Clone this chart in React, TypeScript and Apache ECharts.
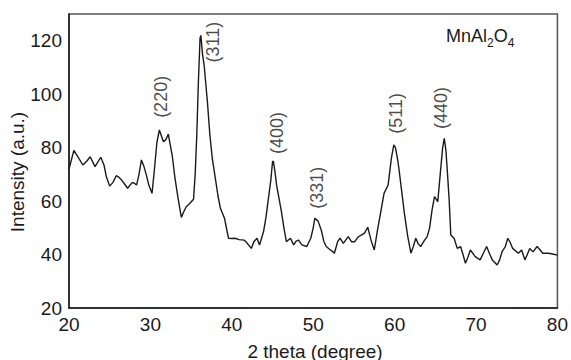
import React, { useEffect, useRef } from "react";
import * as echarts from "echarts";

const twoTheta: number[] = [
  20.0, 20.6, 21.0, 21.7, 22.2, 22.6, 23.2, 23.9, 24.3, 24.6, 25.0, 25.4, 25.8, 26.1, 26.4, 26.8,
  27.2, 27.5, 27.8, 28.1, 28.3, 28.6, 28.9, 29.2, 29.5, 29.8, 30.2, 30.5, 30.8, 31.1, 31.4, 31.6,
  31.9, 32.2, 32.5, 32.7, 33.0, 33.4, 33.8, 34.1, 34.4, 34.8, 35.3, 35.5, 35.7, 35.9, 36.1, 36.2,
  36.4, 36.6, 37.0, 37.3, 37.6, 38.0, 38.3, 38.6, 39.1, 39.4, 39.6, 40.0, 40.4, 40.9, 41.5, 41.9,
  42.4, 42.7, 43.1, 43.4, 43.9, 44.2, 44.5, 44.8, 45.0, 45.1, 45.3, 45.5, 45.8, 46.1, 46.4, 46.7,
  47.2, 47.6, 47.9, 48.2, 48.6, 49.2, 49.7, 50.0, 50.2, 50.6, 51.0, 51.3, 51.6, 52.0, 52.4, 52.6,
  53.0, 53.3, 53.7, 54.3, 54.7, 55.1, 55.5, 55.9, 56.3, 56.7, 57.1, 57.5, 57.9, 58.3, 58.7, 59.2,
  59.6, 59.9, 60.1, 60.4, 60.6, 61.2, 61.6, 62.0, 62.3, 62.6, 62.9, 63.2, 63.6, 64.0, 64.3, 64.6,
  64.9, 65.3, 65.6, 65.9, 66.1, 66.3, 66.5, 66.7, 66.9, 67.3, 67.7, 68.1, 68.4, 68.7, 69.0, 69.3,
  69.6, 69.9, 70.5, 70.9, 71.3, 71.7, 72.0, 72.6, 72.9, 73.2, 73.6, 73.9, 74.2, 74.5, 75.2, 75.6,
  76.0, 76.3, 76.6, 77.0, 77.5, 77.8, 78.2, 78.9, 79.4, 80.0,
];

const intensity: number[] = [
  72, 79, 77, 73.5, 75, 76.6, 72.9, 76.4, 73.5, 69, 65.6, 67, 69.5, 69, 68.1, 66.5,
  64.8, 66, 67, 66.5, 66, 70, 75.4, 73, 69.8, 66, 62.9, 72, 82, 86.6, 84, 82.2,
  83, 85.1, 80, 76.6, 69, 61, 53.9, 56, 57.9, 59, 60.7, 70, 85, 105, 121, 122,
  115, 110.9, 97.2, 85, 76, 68, 62, 57.3, 53.6, 49, 46.1, 46, 46.1, 45.6, 45.4, 44.2,
  42.3, 44.8, 46.1, 43.6, 48.6, 54, 61, 68, 74.7, 75, 71, 66, 61, 56, 50, 44.8,
  46.1, 43.6, 45, 45.4, 43.6, 43, 46.1, 50, 53.6, 52.5, 49, 45, 43, 42, 41.1, 40.5,
  44.8, 46.1, 44.2, 46.7, 44.8, 44.8, 46.5, 47.3, 48, 50.2, 45.4, 41.7, 49.2, 56, 62.9, 66,
  76, 81, 80, 75, 70.4, 55.4, 47, 40.5, 43, 46.1, 44, 43, 45, 46.7, 50, 56.7,
  61.7, 59.8, 70, 80, 83.5, 79, 70, 60.4, 47.3, 46.1, 42.3, 43, 40, 36.7, 39, 41.7,
  40.5, 39.2, 38, 40.5, 43, 40, 38, 36.1, 38, 41.1, 43, 46.1, 44.5, 42.3, 40.5, 41.7,
  38, 40, 42.3, 41, 43, 42, 40.5, 40.5, 40.2, 39.8,
];

const peakLabels: string[] = ["(220)", "(311)", "(400)", "(331)", "(511)", "(440)"];
const peakLabelX: number[] = [31.3, 37.7, 45.6, 50.5, 60.2, 65.7];
const peakLabelY: number[] = [99, 119.5, 85.5, 65, 92.8, 94.8];

const xTicks = { min: 20, max: 80, interval: 10 };
const yTicks = { min: 20, max: 130, interval: 20 };

const FONT = "'Liberation Sans', Arial, Helvetica, sans-serif";
const INK = "#1a1a1a";

export default function App() {
  const ref = useRef<HTMLDivElement>(null);

  useEffect(() => {
    if (!ref.current) return;
    const chart = echarts.init(ref.current, undefined, { renderer: "svg" });

    const lineData = twoTheta.map((x, i) => [x, intensity[i]]);
    const labelData = peakLabels.map((t, i) => ({ value: [peakLabelX[i], peakLabelY[i]], name: t }));

    chart.setOption({
      animation: false,
      backgroundColor: "#ffffff",
      grid: {
        left: 69,
        right: 10,
        top: 14,
        bottom: 52,
        show: true,
        borderColor: "#555",
        borderWidth: 1.5,
        backgroundColor: "transparent",
      },
      xAxis: {
        type: "value",
        min: xTicks.min,
        max: xTicks.max,
        interval: xTicks.interval,
        axisLine: { show: true, lineStyle: { color: INK, width: 1.5 } },
        axisTick: { show: false },
        splitLine: { show: false },
        axisLabel: { color: INK, fontSize: 19, fontFamily: FONT, margin: 7 },
      },
      yAxis: {
        type: "value",
        min: yTicks.min,
        max: yTicks.max,
        interval: yTicks.interval,
        axisLine: { show: true, lineStyle: { color: INK, width: 1.5 } },
        axisTick: { show: false },
        splitLine: { show: false },
        axisLabel: { color: INK, fontSize: 19, fontFamily: FONT, margin: 7, showMaxLabel: false },
      },
      series: [
        {
          type: "line",
          data: lineData,
          showSymbol: false,
          symbol: "none",
          lineStyle: { color: INK, width: 1.4 },
          z: 2,
        },
        {
          type: "scatter",
          data: labelData,
          symbolSize: 0,
          silent: true,
          label: {
            show: true,
            position: "inside",
            rotate: 90,
            formatter: (p: any) => p.name,
            color: INK,
            fontSize: 18,
            fontFamily: FONT,
          },
          z: 3,
        },
      ],
      graphic: [
        {
          type: "text",
          x: 17,
          y: 172,
          rotation: Math.PI / 2,
          style: {
            text: "Intensity (a.u.)",
            fill: INK,
            fontSize: 19,
            fontFamily: FONT,
            align: "center",
            verticalAlign: "middle",
          },
        },
        {
          type: "text",
          x: 315,
          y: 351,
          style: {
            text: "2 theta (degree)",
            fill: INK,
            fontSize: 19,
            fontFamily: FONT,
            align: "center",
            verticalAlign: "middle",
          },
        },
        {
          type: "text",
          x: 446,
          y: 27,
          style: {
            text: "{m|MnAl}{s|2}{m|O}{s|4}",
            fill: INK,
            fontFamily: FONT,
            align: "left",
            verticalAlign: "top",
            rich: {
              m: { fontSize: 18, fontFamily: FONT, fill: INK, padding: [0, 0, 4, 0], verticalAlign: "bottom" },
              s: { fontSize: 12, fontFamily: FONT, fill: INK, verticalAlign: "bottom" },
            },
          },
        },
      ],
    });

    return () => chart.dispose();
  }, []);

  return (
    <div
      ref={ref}
      style={{ position: "fixed", left: 0, top: 0, width: 571, height: 360, background: "#fff" }}
    />
  );
}
